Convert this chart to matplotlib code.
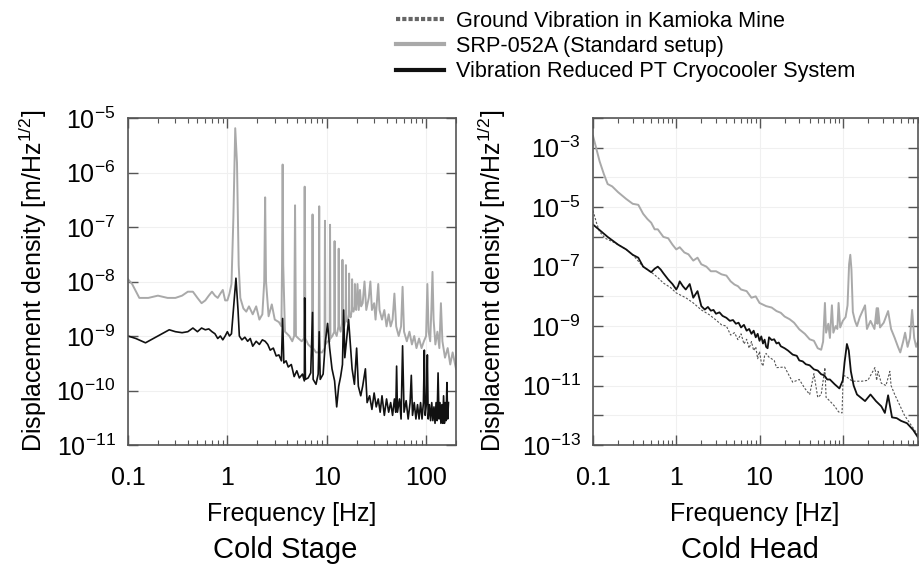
import matplotlib
matplotlib.use("Agg")
import matplotlib.pyplot as plt
from matplotlib.lines import Line2D
from matplotlib.ticker import FixedLocator, LogLocator, NullFormatter, NullLocator

plt.rcParams["font.family"] = ["Liberation Sans", "DejaVu Sans"]
plt.rcParams["mathtext.fontset"] = "custom"
plt.rcParams["mathtext.rm"] = "Liberation Sans"

# ---- Cold Stage: SRP-052A (standard setup)
stage_srp_f = [0.1, 0.11, 0.13, 0.16, 0.2, 0.25, 0.3, 0.35, 0.4, 0.45, 0.5, 0.55, 0.6, 0.65,
               0.7, 0.75, 0.8, 0.85, 0.9, 0.95, 1.0, 1.05, 1.1, 1.15, 1.2, 1.25, 1.3, 1.35,
               1.45, 1.55, 1.65, 1.8, 1.95, 2.1, 2.25, 2.35, 2.4, 2.45, 2.6, 2.8, 3.0, 3.3,
               3.5, 3.55, 3.6, 3.65, 3.8, 4.2, 4.5, 4.7, 4.8, 4.9, 5.2, 5.6, 5.9, 6.0, 6.1,
               6.5, 7.1, 7.2, 7.3, 7.8, 8.3, 8.4, 8.5, 9.0, 9.5, 9.6, 9.7, 10.2, 10.7, 10.8,
               10.9, 11.4, 11.9, 12.0, 12.1, 12.6, 13.1, 13.2, 13.3, 13.8, 14.3, 14.4, 14.5,
               15.0, 15.5, 15.6, 15.7, 16.2, 16.7, 16.8, 16.9, 17.4, 17.9, 18.0, 18.1, 18.6,
               19.1, 19.2, 19.3, 19.8, 20.4, 21.0, 21.6, 22.2, 23.0, 24.0, 25.0, 26.5, 27.5,
               28.5, 30, 31, 33, 34, 36, 38, 40, 42, 44, 46, 48, 50, 53, 56, 58, 60, 64, 68,
               72, 76, 80, 85, 90, 95, 100, 103, 106, 110, 113, 116, 119, 124, 130, 136, 141,
               146, 155, 165, 175, 185, 200]
stage_srp_v = [1.1e-8, 9e-9, 5e-9, 5e-9, 5.5e-9, 5e-9, 5e-9, 5.5e-9, 6.5e-9, 6.5e-9, 5e-9,
               4e-9, 4.5e-9, 5.5e-9, 6.5e-9, 5.5e-9, 5e-9, 6e-9, 7e-9, 4.5e-9, 4.5e-9, 6e-9,
               9e-9, 1.5e-7, 6.5e-6, 1.5e-6, 2e-8, 5e-9, 3.2e-9, 2.8e-9, 3.5e-9, 2.5e-9,
               3.5e-9, 2e-9, 2.5e-9, 1e-8, 3.5e-7, 1e-8, 2.3e-9, 3.8e-9, 2e-9, 1.8e-9, 1.5e-9,
               2e-8, 1.4e-6, 2e-8, 1.2e-9, 1e-9, 8e-10, 1e-9, 2.5e-7, 1e-9, 9e-10, 8e-10,
               9e-10, 5.5e-7, 9e-10, 7e-10, 6e-10, 1.7e-7, 6e-10, 5e-10, 5e-10, 2.4e-7, 5e-10,
               5e-10, 6e-10, 1.3e-7, 7e-10, 8e-10, 8e-10, 1.1e-7, 9e-10, 1e-9, 1.2e-9, 5.5e-8,
               1.2e-9, 1e-9, 1.5e-9, 4e-8, 1.5e-9, 1.2e-9, 1.8e-9, 2.5e-8, 1.8e-9, 1.5e-9,
               2e-9, 2e-8, 2e-9, 1.8e-9, 2.5e-9, 1.4e-8, 2.5e-9, 2.2e-9, 3e-9, 1.1e-8, 3e-9,
               2.8e-9, 3.5e-9, 9e-9, 3.5e-9, 3e-9, 9e-9, 3e-9, 7e-9, 3.5e-9, 4e-9, 1e-8, 3e-9,
               5e-9, 1e-8, 3e-9, 4e-9, 2e-9, 9e-9, 3e-9, 2e-9, 3e-9, 1.5e-9, 2.5e-9, 1.5e-9,
               2e-9, 6e-9, 1.5e-9, 1e-9, 1.5e-9, 8e-9, 1.2e-9, 8e-10, 1.2e-9, 7e-10, 1e-9,
               6e-10, 9e-10, 6e-10, 8e-10, 1e-9, 9e-9, 1.2e-9, 8e-10, 3e-9, 1.5e-8, 2e-9,
               7e-10, 1.2e-9, 6e-10, 4e-9, 8e-10, 4e-10, 6e-10, 3e-10, 5e-10, 2.5e-10]

# ---- Cold Stage: vibration reduced PT cryocooler system
stage_vr_f = [0.1, 0.12, 0.15, 0.18, 0.22, 0.26, 0.3, 0.35, 0.4, 0.45, 0.5, 0.55, 0.6, 0.65,
              0.7, 0.75, 0.8, 0.85, 0.9, 0.95, 1.0, 1.05, 1.1, 1.15, 1.22, 1.28, 1.32, 1.4,
              1.5, 1.6, 1.7, 1.8, 1.95, 2.1, 2.25, 2.4, 2.55, 2.7, 2.9, 3.1, 3.3, 3.5, 3.6,
              3.7, 3.9, 4.1, 4.4, 4.7, 5.0, 5.3, 5.7, 5.95, 6.0, 6.1, 6.5, 6.9, 7.2, 7.3, 7.8,
              8.2, 8.4, 8.6, 9.2, 9.7, 10.2, 10.7, 11.3, 12.0, 12.6, 13.2, 13.8, 14.4, 14.8,
              15.2, 16.0, 16.6, 17.2, 18.0, 19.0, 20.0, 20.8, 22, 23, 24.5, 25.5, 27, 28.5,
              30, 31.5, 33, 34.5, 36, 38, 40, 42, 44, 46, 48, 49.5, 50.5, 51.5, 54, 56, 58,
              60, 63, 66, 69, 71, 73, 76, 79, 82, 85, 88, 91, 94, 96, 98, 101, 103, 105, 108,
              111, 114, 117, 120, 123, 126, 129, 132, 135, 138, 141, 144, 147, 150, 153, 156,
              159, 162, 165, 168]
stage_vr_v = [1e-9, 9e-10, 7.5e-10, 9e-10, 1.1e-9, 1.3e-9, 1.2e-9, 1.15e-9, 1.2e-9, 1.4e-9,
              1.2e-9, 1.4e-9, 1.3e-9, 1.35e-9, 1.2e-9, 1.1e-9, 9e-10, 1e-9, 8.5e-10, 1e-9,
              1.2e-9, 1e-9, 1.1e-9, 3e-9, 1.15e-8, 3e-9, 1e-9, 8.5e-10, 9.5e-10, 8e-10, 9e-10,
              6.5e-10, 8e-10, 7e-10, 8.5e-10, 8e-10, 7e-10, 5.5e-10, 6e-10, 4.3e-10, 4.5e-10,
              3.5e-10, 2.1e-9, 3.2e-10, 3.5e-10, 2.7e-10, 3e-10, 1.8e-10, 2.3e-10, 1.7e-10,
              2e-10, 1.5e-10, 5e-9, 1.6e-10, 1.7e-10, 2.1e-10, 2.7e-9, 1.6e-10, 1.3e-10,
              2e-10, 1.2e-9, 1.6e-10, 2e-10, 8e-10, 1.7e-9, 6e-10, 2.5e-10, 1.5e-10, 5e-11,
              1.2e-10, 1.8e-10, 3e-10, 3e-9, 4e-10, 1e-9, 2e-9, 8e-10, 2.5e-10, 1.3e-10,
              6e-10, 1.2e-10, 8e-11, 1.2e-10, 2.5e-10, 6e-11, 8e-11, 4.5e-11, 9e-11, 5e-11,
              7e-11, 4e-11, 8e-11, 3.5e-11, 7e-11, 4e-11, 6e-11, 3.5e-11, 7e-11, 4e-11,
              2.8e-10, 4e-11, 7e-11, 3e-11, 6.6e-10, 4e-11, 6.5e-11, 3e-11, 6e-11, 1.9e-10,
              3.5e-11, 6e-11, 3e-11, 5.5e-11, 3e-11, 6e-11, 3e-11, 6e-11, 5.5e-10, 3.5e-11,
              6e-11, 4.5e-10, 3e-11, 5.5e-11, 2.8e-11, 6e-11, 2.8e-11, 5e-11, 2.5e-11, 6e-11,
              2.8e-11, 2.1e-10, 3e-11, 6e-11, 2.5e-11, 5.5e-11, 2.5e-11, 8e-11, 2.5e-11,
              6e-11, 2.8e-11, 1.4e-10, 3e-11, 6e-11]

# ---- Cold Head: ground vibration in Kamioka mine
head_gnd_f = [0.1, 0.11, 0.12, 0.14, 0.17, 0.2, 0.25, 0.3, 0.4, 0.5, 0.6, 0.7, 0.85, 1.0,
              1.3, 1.6, 2.0, 2.5, 3.0, 3.5, 4.0, 4.5, 5.0, 5.5, 6.0, 6.5, 7.0, 7.5, 8.0, 8.5,
              9.0, 9.5, 10, 10.5, 11, 11.5, 12, 13, 15, 16, 20, 25, 30, 35, 40, 45, 50, 55,
              61, 63, 70, 80, 89, 98, 101, 110, 130, 170, 200, 243, 255, 265, 290, 330, 367,
              380, 420, 490, 550, 650, 800]
head_gnd_v = [7.7e-6, 3e-6, 1.5e-6, 9e-7, 7e-7, 5.5e-7, 3.8e-7, 2.5e-7, 1e-7, 6.5e-8, 4.3e-8,
              2.8e-8, 2e-8, 1.3e-8, 9e-9, 6e-9, 3.5e-9, 2.4e-9, 1.6e-9, 1.1e-9, 1e-9, 5e-10,
              6e-10, 3.5e-10, 5.5e-10, 2.5e-10, 3.6e-10, 1.8e-10, 3e-10, 1.5e-10, 2e-10,
              8e-11, 1.4e-10, 6e-11, 4.5e-11, 1e-10, 1.2e-10, 9e-11, 7e-11, 4e-11, 4.2e-11,
              1.3e-11, 1.6e-11, 8e-12, 5e-12, 2.5e-11, 4e-12, 5e-12, 4e-11, 4e-12, 3e-12,
              2e-12, 1.3e-12, 1.2e-12, 2.2e-11, 2e-11, 1.4e-11, 1.4e-11, 1.5e-11, 4e-11,
              1.5e-11, 3e-11, 1.2e-11, 1e-11, 3e-11, 1e-11, 5e-12, 2e-12, 1e-12, 5e-13,
              2.2e-13]

# ---- Cold Head: SRP-052A (standard setup)
head_srp_f = [0.1, 0.11, 0.12, 0.135, 0.15, 0.17, 0.2, 0.25, 0.3, 0.35, 0.4, 0.45, 0.5, 0.55,
              0.6, 0.7, 0.8, 0.9, 1.0, 1.1, 1.25, 1.4, 1.6, 1.8, 2.0, 2.3, 2.6, 3.0, 3.5, 4.0,
              4.5, 5.0, 5.5, 6.0, 7.0, 8.0, 9.0, 10, 12, 14, 16, 18, 20, 23, 26, 30, 35, 40,
              45, 50, 55, 58, 61, 63, 67, 70, 74, 77, 82, 86, 89, 93, 100, 108, 114, 119,
              123, 127, 132, 140, 148, 160, 185, 195, 215, 240, 255, 260, 265, 280, 310,
              350, 380, 420, 460, 490, 530, 560, 600, 640, 680, 720, 760, 800]
head_srp_v = [2.5e-3, 9e-4, 3.5e-4, 1.3e-4, 6e-5, 5e-5, 3.2e-5, 1.9e-5, 1.3e-5, 1.2e-5,
              6e-6, 4e-6, 3e-6, 1.8e-6, 1.8e-6, 1e-6, 9e-7, 5.5e-7, 3.8e-7, 4.5e-7, 3e-7,
              2.6e-7, 1.6e-7, 2e-7, 1.2e-7, 1e-7, 7e-8, 7e-8, 5.5e-8, 5e-8, 3.2e-8, 2.5e-8,
              2.2e-8, 1.7e-8, 1.5e-8, 9e-9, 1e-8, 6e-9, 4.7e-9, 4.2e-9, 3.2e-9, 2.8e-9,
              2.1e-9, 1.7e-9, 1.3e-9, 7.8e-10, 5.5e-10, 3.6e-10, 3.2e-10, 1.8e-10, 1.6e-10,
              3e-10, 6e-9, 6e-10, 1.2e-9, 4e-10, 5e-9, 6e-10, 1e-9, 8e-10, 6e-9, 9e-10,
              1.5e-9, 2e-9, 5e-9, 1.2e-7, 2.5e-7, 8e-8, 3e-9, 1.5e-9, 1e-9, 2e-9, 5e-9,
              8e-10, 1.5e-9, 8e-10, 4e-9, 1.2e-9, 4e-9, 9e-10, 1.3e-9, 3.2e-9, 8e-10, 4e-10,
              2e-10, 1.3e-10, 3e-10, 6e-10, 2e-10, 4e-10, 3.5e-9, 4e-10, 2e-10, 3e-10]

# ---- Cold Head: vibration reduced PT cryocooler system
head_vr_f = [0.1, 0.12, 0.15, 0.2, 0.25, 0.3, 0.35, 0.4, 0.45, 0.5, 0.55, 0.6, 0.65, 0.7,
             0.8, 0.9, 1.0, 1.05, 1.1, 1.2, 1.3, 1.45, 1.6, 1.8, 2.0, 2.2, 2.4, 2.6, 2.8,
             3.0, 3.3, 3.6, 4.0, 4.4, 4.8, 5.2, 5.6, 6.0, 6.5, 7.0, 7.5, 8.0, 8.5, 9.0, 9.5,
             10, 10.5, 11, 11.5, 12, 12.5, 13, 14, 15, 16, 17, 18, 20, 22, 25, 28, 30, 33,
             36, 40, 45, 50, 55, 60, 65, 70, 80, 91, 100, 105, 112, 118, 125, 135, 148, 185,
             215, 250, 290, 320, 350, 390, 444, 500, 590, 700, 800]
head_vr_v = [2.6e-6, 1.7e-6, 1e-6, 5.5e-7, 3.8e-7, 2.5e-7, 2e-7, 1e-7, 8e-8, 6.5e-8, 8.5e-8,
             1e-7, 8e-8, 6e-8, 3.7e-8, 2.6e-8, 1.7e-8, 2.2e-8, 3.2e-8, 2.2e-8, 1.7e-8,
             2.6e-8, 9e-9, 1.5e-8, 4.7e-9, 3.6e-9, 4.4e-9, 3.3e-9, 3.5e-9, 2.6e-9, 2.9e-9,
             2.2e-9, 1.9e-9, 1.5e-9, 1.6e-9, 1.2e-9, 1.3e-9, 9e-10, 1.1e-9, 7e-10, 8e-10,
             5.5e-10, 7e-10, 4.2e-10, 5.5e-10, 3.2e-10, 4.5e-10, 2.6e-10, 3.5e-10, 2e-10,
             1.8e-10, 4.2e-10, 3.4e-10, 3.6e-10, 2.6e-10, 2.8e-10, 2.1e-10, 1.8e-10, 1.5e-10,
             1.1e-10, 1e-10, 7e-11, 6.5e-11, 5.2e-11, 4.8e-11, 3.5e-11, 3.2e-11, 2.4e-11,
             2.2e-11, 1.6e-11, 1.6e-11, 1.1e-11, 8e-12, 1.5e-11, 6e-11, 2.5e-10, 1.5e-10,
             3e-11, 1e-11, 5e-12, 3e-12, 5e-12, 3e-12, 2e-12, 1.2e-12, 4.7e-12, 8.5e-13,
             8e-13, 6.5e-13, 5.4e-13, 3.2e-13, 1.8e-13]

xticks = [0.1, 1, 10, 100]
xtick_labels = ["0.1", "1", "10", "100"]
stage_exps = [-11, -10, -9, -8, -7, -6, -5]
head_exps = [-13, -12, -11, -10, -9, -8, -7, -6, -5, -4, -3, -2]
head_labeled = [-13, -11, -9, -7, -5, -3]

c_gnd, c_srp, c_vr = "#555555", "#a9a9a9", "#111111"
edge = "#555555"

fig = plt.figure(figsize=(9.2, 5.65), dpi=100)
ax1 = fig.add_axes([128 / 920, 1 - 445 / 565, 328 / 920, 327 / 565])
ax2 = fig.add_axes([593 / 920, 1 - 445 / 565, 325 / 920, 327 / 565])

ax1.plot(stage_srp_f, stage_srp_v, color=c_srp, lw=1.4)
ax1.plot(stage_vr_f, stage_vr_v, color=c_vr, lw=1.2)

ax2.plot(head_srp_f, head_srp_v, color=c_srp, lw=1.4)
ax2.plot(head_gnd_f, head_gnd_v, color=c_gnd, lw=0.8, ls=(0, (2, 1.5)))
ax2.plot(head_vr_f, head_vr_v, color=c_vr, lw=1.3)

for ax in (ax1, ax2):
    ax.set_xscale("log")
    ax.set_yscale("log")
    ax.xaxis.set_major_locator(FixedLocator(xticks))
    ax.set_xticklabels(xtick_labels)
    ax.xaxis.set_minor_locator(LogLocator(base=10, subs=range(2, 10)))
    ax.xaxis.set_minor_formatter(NullFormatter())
    ax.tick_params(which="both", direction="in", top=True, right=True, color=edge)
    ax.tick_params(which="major", length=7, width=1, labelsize=18)
    ax.tick_params(which="minor", length=3.5, width=0.8)
    ax.tick_params(axis="x", pad=15)
    ax.tick_params(axis="y", pad=9)
    ax.grid(True, which="major", color="#f0f0f0", lw=0.8)
    ax.set_axisbelow(True)
    for s in ax.spines.values():
        s.set_color(edge)
        s.set_linewidth(1.2)

ax1.set_xlim(0.1, 200)
ax1.set_ylim(1e-11, 1e-5)
ax1.yaxis.set_major_locator(FixedLocator([10.0 ** e for e in stage_exps]))
ax1.set_yticklabels([r"$\mathregular{10^{%d}}$" % e for e in stage_exps])
ax1.yaxis.set_minor_locator(LogLocator(base=10, subs=range(2, 10)))
ax1.yaxis.set_minor_formatter(NullFormatter())

ax2.set_xlim(0.1, 800)
ax2.set_ylim(1e-13, 1e-2)
ax2.yaxis.set_major_locator(FixedLocator([10.0 ** e for e in head_exps]))
ax2.set_yticklabels([r"$\mathregular{10^{%d}}$" % e if e in head_labeled else ""
                     for e in head_exps])
ax2.yaxis.set_minor_locator(NullLocator())

ylab = r"Displacement density [m/Hz$^{1/2}$]"
fig.text(33 / 920, 1 - 281 / 565, ylab, rotation=90, ha="center", va="center", fontsize=18)
fig.text(492 / 920, 1 - 281 / 565, ylab, rotation=90, ha="center", va="center", fontsize=18)
fig.text(292 / 920, 1 - 514 / 565, "Frequency [Hz]", ha="center", va="center", fontsize=18)
fig.text(755 / 920, 1 - 514 / 565, "Frequency [Hz]", ha="center", va="center", fontsize=18)
fig.text(285 / 920, 1 - 550 / 565, "Cold Stage", ha="center", va="center", fontsize=21)
fig.text(750 / 920, 1 - 550 / 565, "Cold Head", ha="center", va="center", fontsize=21)

handles = [Line2D([], [], color="#666666", lw=3, ls=(0, (1, 0.5))),
           Line2D([], [], color=c_srp, lw=3),
           Line2D([], [], color=c_vr, lw=3)]
labels = ["Ground Vibration in Kamioka Mine", "SRP-052A (Standard setup)",
          "Vibration Reduced PT Cryocooler System"]
fig.legend(handles, labels, loc="upper left", bbox_to_anchor=(379 / 920, 1.012),
           frameon=False, fontsize=15.6, handlelength=2.2, handletextpad=0.55,
           labelspacing=0.2, borderpad=0.3)

fig.savefig("out.png", dpi=100)
